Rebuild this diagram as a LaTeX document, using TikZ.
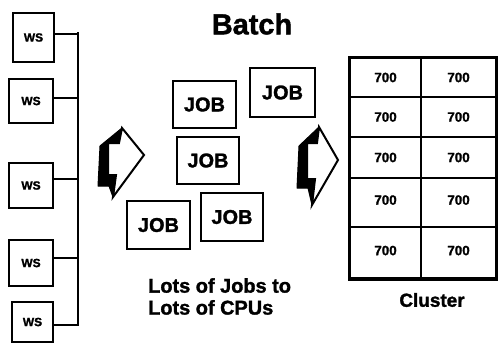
\documentclass[tikz,border=0pt]{standalone}
\usepackage{fontspec}
\setmainfont{Liberation Sans}[BoldFeatures={FakeBold=1.5}]
\begin{document}
\begin{tikzpicture}[x=1bp,y=-1bp,
  wsbox/.style={draw,line width=2bp,inner sep=0pt,font=\bfseries\fontsize{12}{13}\selectfont},
  jobbox/.style={draw,line width=2bp,inner sep=0pt,minimum width=63bp,minimum height=47bp,font=\bfseries\fontsize{20}{22}\selectfont},
  cell/.style={draw,line width=2bp,inner sep=0pt,font=\bfseries\fontsize{13.5}{14}\selectfont},
  bus/.style={line width=2bp},
  lbl/.style={font=\bfseries\fontsize{20}{22}\selectfont,inner sep=0pt},
  shade/.style={fill=black,draw=black,line width=1bp,line join=round},
  front/.style={fill=white,draw=black,line width=2bp,line join=miter}]
\useasboundingbox (0,0) rectangle (498,344);
% workstations
\node[wsbox,minimum width=41bp,minimum height=49bp] (ws1) at (33.5,37.5) {WS};
\node[wsbox,minimum width=44bp,minimum height=44bp] (ws2) at (31,101) {WS};
\node[wsbox,minimum width=44bp,minimum height=45bp] (ws3) at (31,185.5) {WS};
\node[wsbox,minimum width=44bp,minimum height=46bp] (ws4) at (31,263) {WS};
\node[wsbox,minimum width=41bp,minimum height=40bp] (ws5) at (32.5,322) {WS};
\coordinate (bustop) at (78,33);
\coordinate (busbot) at (78,325);
\draw[bus] ([yshift=4bp]ws1.east) -- ([yshift=4bp]ws1.east -| bustop);
\draw[bus] ([yshift=3bp]ws2.east) -- ([yshift=3bp]ws2.east -| bustop);
\draw[bus] ([yshift=7bp]ws3.east) -- ([yshift=7bp]ws3.east -| bustop);
\draw[bus] ([yshift=5bp]ws4.east) -- ([yshift=5bp]ws4.east -| bustop);
\draw[bus] ([yshift=-3bp]ws5.east) -- ([yshift=-3bp]ws5.east -| bustop);
\draw[bus,line cap=rect] (bustop) -- (busbot);
% arrow 1
\filldraw[shade] (122,128) -- (100,146) -- (98,186) -- (109,186) -- (113,197) -- (116,175) -- (108,175) -- (108,143) -- (119,143) -- cycle;
\filldraw[front] (108,143) -- (119,143) -- (122,128) -- (144,155) -- (113,197) -- (116,175) -- (108,175) -- cycle;
% arrow 2
\filldraw[shade] (319,127) -- (299,146) -- (297,188) -- (308,188) -- (312,205) -- (315,179) -- (307,179) -- (307,143) -- (317,143) -- cycle;
\filldraw[front] (307,143) -- (317,143) -- (319,127) -- (338,160) -- (312,205) -- (315,179) -- (307,179) -- cycle;
% title
\node[font=\bfseries\fontsize{29}{30}\selectfont,inner sep=0pt] (title) at (252,24) {Batch};
% jobs
\node[jobbox] (jobA) at (204.5,104.5) {JOB};
\node[jobbox,minimum width=65bp,minimum height=49bp] (jobB) at (282.5,92.5) {JOB};
\node[jobbox,minimum width=62bp] (jobC) at (208,160.5) {JOB};
\node[jobbox,minimum height=48bp] (jobD) at (158.5,225) {JOB};
\node[jobbox,minimum width=62bp,minimum height=48bp] (jobE) at (232,217) {JOB};
\node[lbl,align=left,anchor=north west] (lots) at (148,278) {Lots of Jobs to\\Lots of CPUs};
% cluster
\node[cell,minimum width=71bp,minimum height=39bp] (c11) at (385.5,77.5) {700};
\node[cell,minimum width=75bp,minimum height=39bp] (c12) at (458.5,77.5) {700};
\node[cell,minimum width=71bp,minimum height=40bp] (c21) at (385.5,117) {700};
\node[cell,minimum width=75bp,minimum height=40bp] (c22) at (458.5,117) {700};
\node[cell,minimum width=71bp,minimum height=41bp] (c31) at (385.5,157.5) {700};
\node[cell,minimum width=75bp,minimum height=41bp] (c32) at (458.5,157.5) {700};
\node[cell,minimum width=71bp,minimum height=49bp] (c41) at (385.5,202.5) {\raisebox{5bp}{700}};
\node[cell,minimum width=75bp,minimum height=49bp] (c42) at (458.5,202.5) {\raisebox{5bp}{700}};
\node[cell,minimum width=71bp,minimum height=51bp] (c51) at (385.5,252.5) {\raisebox{4bp}{700}};
\node[cell,minimum width=75bp,minimum height=51bp] (c52) at (458.5,252.5) {\raisebox{4bp}{700}};
\draw[line width=3bp] (c11.north west) rectangle (c52.south east);
\node[lbl,font=\bfseries\fontsize{19}{20}\selectfont] (cl) at (432,300) {Cluster};
\end{tikzpicture}
\end{document}
